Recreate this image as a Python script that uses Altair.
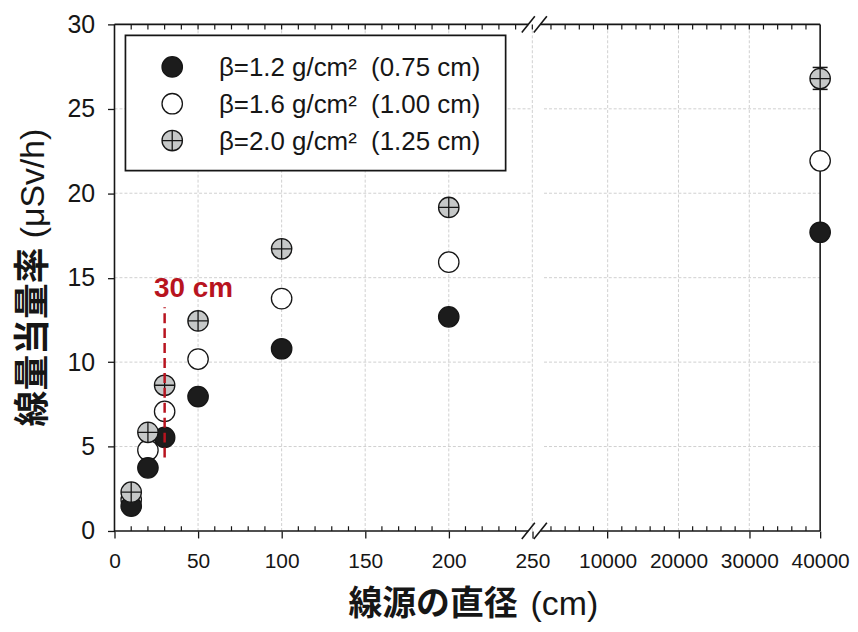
import altair as alt
import pandas as pd

# ---------------- data ----------------
diameter = [10, 20, 30, 50, 100, 200, 40000]
series = ["β=1.2 g/cm²\u00a0\u00a0(0.75 cm)",
          "β=1.6 g/cm²\u00a0\u00a0(1.00 cm)",
          "β=2.0 g/cm²\u00a0\u00a0(1.25 cm)"]
dose_b12 = [1.47, 3.74, 5.54, 7.96, 10.79, 12.68, 17.69]
dose_b16 = [1.85, 4.78, 7.08, 10.18, 13.76, 15.92, 21.92]
dose_b20 = [2.30, 5.84, 8.63, 12.44, 16.71, 19.16, 26.79]
err_x = [40000]
err_lo = [26.15]
err_hi = [27.45]
x_major = [0, 50, 100, 150, 200, 250, 10000, 20000, 30000, 40000]
y_major = [0, 5, 10, 15, 20, 25, 30]
x_grid = [50, 100, 150, 200, 250, 10000, 20000, 30000]
y_grid = [5, 10, 15, 20, 25]
minor_left = [v for v in range(10, 250, 10) if v % 50 != 0]
minor_right = [v for v in range(2000, 40000, 2000) if v % 10000 != 0]
ann_x = [30]
ann_lo = [4.35]
ann_hi = [13.25]
ann_text = ["30 cm"]

# ---------------- broken x axis mapping ----------------
BREAK = 250
P0 = 252.68
K = 0.004238


def pos(v):
    return v if v <= BREAK else P0 + v * K


PMAX = pos(40000)
GAP_LO, GAP_HI = 247.6, 254.8
GRID_GAP_LO, GRID_GAP_HI = 250.4, 257.0

W, H = 709, 509
FONT = "Liberation Sans, Arial, sans-serif"
CJK = "Noto Sans CJK JP"
INK = "#161616"

xs = alt.Scale(domain=[0, PMAX], nice=False, zero=False)
ys = alt.Scale(domain=[0, 30], nice=False, zero=False)

label_expr = (f"datum.value <= 250.5 ? format(datum.value, 'd') : "
              f"format(round((datum.value - {P0}) / {K} / 1000) * 1000, 'd')")
xaxis = alt.Axis(values=[pos(v) for v in x_major], labelExpr=label_expr, title=None,
                 domain=False, grid=False, ticks=True, tickSize=7, tickWidth=1.3,
                 tickColor=INK, labelFont=FONT, labelFontSize=21, labelColor=INK,
                 labelPadding=13, labelFlush=False, labelOverlap=False)
yaxis = alt.Axis(values=y_major, title=None, domain=False, grid=False, ticks=True,
                 tickSize=7, tickWidth=1.3, tickColor=INK, labelFont=FONT,
                 labelFontSize=25, labelColor=INK, labelPadding=13,
                 labelFlush=False, labelOverlap=False)


def X(f):
    return alt.X(f, type="quantitative", scale=xs, axis=xaxis)


def Y(f):
    return alt.Y(f, type="quantitative", scale=ys, axis=yaxis)


# ---------------- tables ----------------
rows = []
for name, vals in [(series[1], dose_b16), (series[0], dose_b12), (series[2], dose_b20)]:
    for d, v in zip(diameter, vals):
        rows.append({"p": pos(d), "dose": v, "series": name})
pts = pd.DataFrame(rows)

grid_v = pd.DataFrame({"p": [pos(v) for v in x_grid], "y0": 0, "y1": 30})
grid_h = pd.DataFrame(
    [{"x0": 0, "x1": GRID_GAP_LO, "y": y} for y in y_grid] +
    [{"x0": GRID_GAP_HI, "x1": PMAX, "y": y} for y in y_grid])

frame = [(0, 0, 0, 30), (PMAX, PMAX, 0, 30),
         (0, GAP_LO, 0, 0), (GAP_HI, PMAX, 0, 0),
         (0, GAP_LO, 30, 30), (GAP_HI, PMAX, 30, 30)]
SDX, SDY = 3.9, 0.48
for c in (GAP_LO, GAP_HI):
    for yb in (0, 30):
        frame.append((c - SDX, c + SDX, yb - SDY, yb + SDY))
frame_df = pd.DataFrame(frame, columns=["x0", "x1", "y0", "y1"])

minor_p = [pos(v) for v in minor_left] + [pos(v) for v in minor_right]
ticks_bottom = pd.DataFrame({"p": minor_p, "y0": 0, "y1": 0.28})
top_p = sorted(minor_p + [pos(v) for v in x_major if 0 < v < 40000])
ticks_top = pd.DataFrame({"p": top_p, "y0": 30, "y1": 29.7})

err_df = pd.DataFrame({"p": [pos(v) for v in err_x], "lo": err_lo, "hi": err_hi})
ann_df = pd.DataFrame({"p": [pos(v) for v in ann_x], "lo": ann_lo, "hi": ann_hi,
                       "t": ann_text})

# ---------------- layers ----------------
gridv = alt.Chart(grid_v).mark_rule(color="#d0d0d0", strokeWidth=1, strokeDash=[3, 2]).encode(
    x=X("p"), y=Y("y0"), y2="y1")
gridh = alt.Chart(grid_h).mark_rule(color="#d0d0d0", strokeWidth=1, strokeDash=[3, 2]).encode(
    x=X("x0"), x2="x1", y=Y("y"))
frame_l = alt.Chart(frame_df).mark_rule(color=INK, strokeWidth=1.6).encode(
    x=X("x0"), x2="x1", y=Y("y0"), y2="y1")
tb = alt.Chart(ticks_bottom).mark_rule(color=INK, strokeWidth=1.2).encode(
    x=X("p"), y=Y("y0"), y2="y1")
tt = alt.Chart(ticks_top).mark_rule(color=INK, strokeWidth=1.2).encode(
    x=X("p"), y=Y("y0"), y2="y1")

CIRCLE = "M-1,0A1,1,0,1,0,1,0A1,1,0,1,0,-1,0Z"
CIRCLE_CROSS = CIRCLE + "M-1,0L1,0M0,-1L0,1"
fill_scale = alt.Scale(domain=series, range=["#1c1c1c", "#ffffff", "#c6c8c8"])
shape_scale = alt.Scale(domain=series, range=[CIRCLE, CIRCLE, CIRCLE_CROSS])

err_rule = alt.Chart(err_df).mark_rule(color=INK, strokeWidth=1.3).encode(
    x=X("p"), y=Y("lo"), y2="hi")
points = alt.Chart(pts).mark_point(filled=False, stroke=INK, strokeWidth=1.3, opacity=1,
                                   size=420).encode(
    x=X("p"), y=Y("dose"),
    fill=alt.Fill("series:N", scale=fill_scale, legend=None),
    shape=alt.Shape("series:N", scale=shape_scale, legend=None))
cap_lo = alt.Chart(err_df).mark_tick(orient="horizontal", size=15, thickness=1.5,
                                     color=INK, opacity=1).encode(x=X("p"), y=Y("lo"))
cap_hi = alt.Chart(err_df).mark_tick(orient="horizontal", size=15, thickness=1.5,
                                     color=INK, opacity=1).encode(x=X("p"), y=Y("hi"))

RED = "#b8141f"
ann_line = alt.Chart(ann_df).mark_rule(color=RED, strokeWidth=2.5, strokeDash=[10, 5]).encode(
    x=X("p"), y=Y("lo"), y2="hi")
ann_txt = alt.Chart(ann_df).mark_text(font=FONT, fontSize=28, fontWeight="bold", color=RED,
                                      align="center", baseline="alphabetic", dx=29, dy=-10).encode(
    x=X("p"), y=Y("hi"), text="t:N")

# ---------------- legend (drawn by hand, inside the plot) ----------------
LEG_BOX = (11, 393, 11, 147)        # x0, x1, y0, y1 in px from plot origin
LEG_SYM_X = 58
LEG_ROW_Y = [42.7, 79.7, 116.7]
LEG_TXT_X = 105
LEG_TXT_Y = 52
LEG_LINE_H = 37

legend_box = alt.Chart(pd.DataFrame({"k": [0]})).mark_rect(
    fill="white", stroke=INK, strokeWidth=1.7).encode(
    x=alt.value(LEG_BOX[0]), x2=alt.value(LEG_BOX[1]),
    y=alt.value(LEG_BOX[2]), y2=alt.value(LEG_BOX[3]))
legend_syms = []
for i, name in enumerate(series):
    legend_syms.append(
        alt.Chart(pd.DataFrame({"series": [name]})).mark_point(
            filled=False, stroke=INK, strokeWidth=1.3, opacity=1, size=420).encode(
            x=alt.value(LEG_SYM_X), y=alt.value(LEG_ROW_Y[i]),
            fill=alt.Fill("series:N", scale=fill_scale, legend=None),
            shape=alt.Shape("series:N", scale=shape_scale, legend=None)))
legend_txt = alt.Chart(pd.DataFrame({"t": ["\n".join(series)]})).mark_text(
    font=FONT, fontSize=26, color=INK, align="left", baseline="alphabetic",
    lineBreak="\n", lineHeight=LEG_LINE_H).encode(
    x=alt.value(LEG_TXT_X), y=alt.value(LEG_TXT_Y), text="t:N")

# ---------------- axis titles ----------------
xt1 = alt.Chart(pd.DataFrame({"t": ["線源の直径"]})).mark_text(
    font=CJK, fontSize=34, fontWeight="bold", color=INK, align="right",
    baseline="alphabetic").encode(x=alt.value(405), y=alt.value(593), text="t:N")
xt2 = alt.Chart(pd.DataFrame({"t": ["(cm)"]})).mark_text(
    font=FONT, fontSize=34, color=INK, align="left",
    baseline="alphabetic").encode(x=alt.value(418), y=alt.value(593), text="t:N")
yt1 = alt.Chart(pd.DataFrame({"t": ["線量当量率"]})).mark_text(
    font=CJK, fontSize=36, fontWeight="bold", color=INK, align="right", angle=270,
    baseline="alphabetic").encode(x=alt.value(-70), y=alt.value(224), text="t:N")
yt2 = alt.Chart(pd.DataFrame({"t": ["(μSv/h)"]})).mark_text(
    font=FONT, fontSize=34, color=INK, align="left", angle=270,
    baseline="alphabetic").encode(x=alt.value(-71), y=alt.value(215), text="t:N")

chart = alt.layer(
    gridv, gridh, frame_l, tb, tt, err_rule, points, cap_lo, cap_hi,
    ann_line, ann_txt, legend_box, *legend_syms, legend_txt, xt1, xt2, yt1, yt2
).properties(
    width=W, height=H,
    padding={"left": 107, "top": 15, "right": 30, "bottom": 92},
    autosize=alt.AutoSizeParams(type="none"),
    background="white",
).configure_view(stroke="transparent")

chart.save("out.html", embed_options={"renderer": "svg", "actions": False})
